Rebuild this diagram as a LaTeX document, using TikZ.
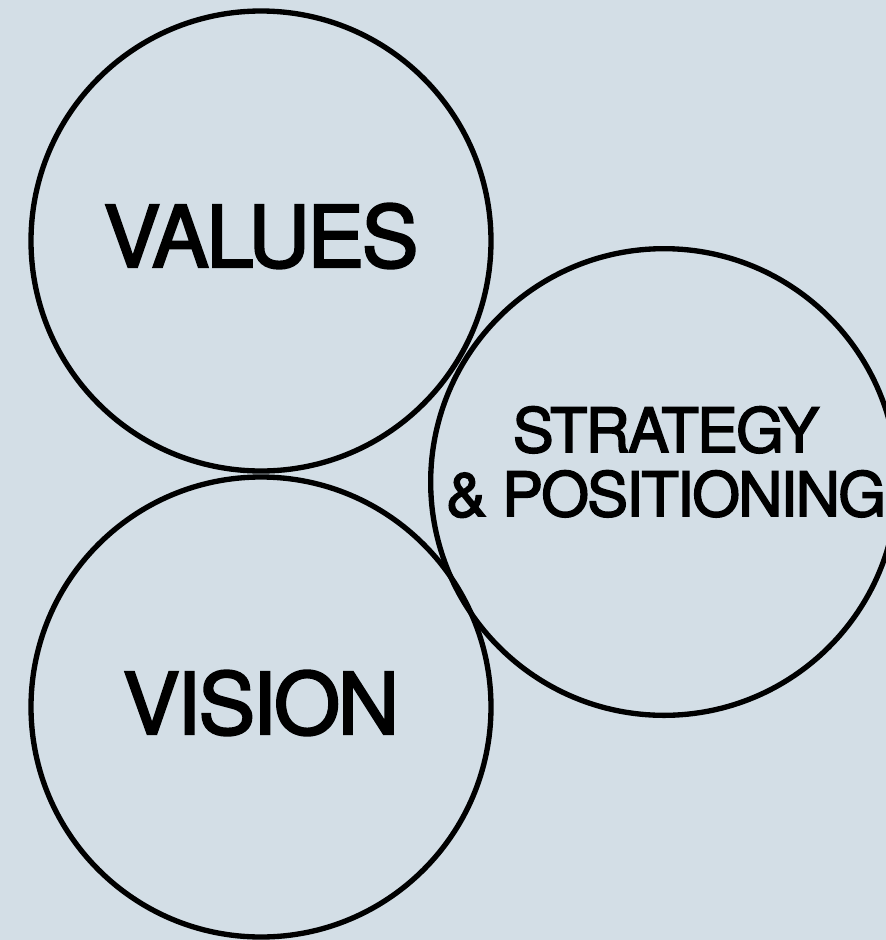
\documentclass[tikz,border=0pt]{standalone}
\usepackage{fontspec}
\setmainfont{TeX Gyre Heros}[LetterSpace=-3,FakeBold=2.5]
\usepackage{tikz}
\definecolor{bgblue}{HTML}{D3DEE6}
\tikzset{
  ring/.style={circle,draw=black,line width=4pt,minimum size=345pt,inner sep=0pt},
  bigword/.style={font=\fontsize{64}{64}\selectfont},
  midword/.style={font=\fontsize{46}{48}\selectfont,align=center}
}

\begin{document}
\begin{tikzpicture}[x=0.75pt,y=-0.75pt]
  % background panel, also fixes the page size
  \fill[bgblue] (0,0) rectangle (886,940);
  \useasboundingbox (0,0) rectangle (886,940);
  % three rings, the right one runs off the edge
  \node[ring] (values) at (261,241) {};
  \node[ring] (vision) at (261,707) {};
  \node[ring,minimum size=350pt] (strategy) at (664,482) {};
  % words inside the rings
  \node[bigword] (valueslbl) at (261,236) {VALUES};
  \node[bigword] (visionlbl) at (261,703) {VISION};
  \node[midword] (strategylbl) at (666,462) {STRATEGY\\\& POSITIONING};
\end{tikzpicture}
\end{document}
